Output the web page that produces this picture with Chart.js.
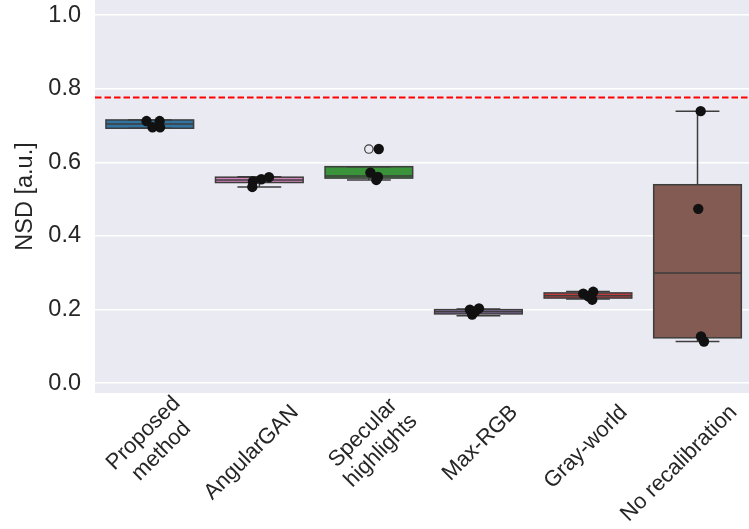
<!DOCTYPE html>
<html>
<head>
<meta charset="utf-8">
<script src="https://cdn.jsdelivr.net/npm/chart.js@4.4.1/dist/chart.umd.min.js"></script>
<style>
  body { margin: 0; background: #ffffff; }
  #wrap { width: 749px; height: 529px; }
</style>
</head>
<body>
<div id="wrap"><canvas id="boxChart" width="749" height="529"></canvas></div>
<script>
const categories = [['Proposed', 'method'], 'AngularGAN', ['Specular', 'highlights'], 'Max-RGB', 'Gray-world', 'No recalibration'];
const boxColors = ['#3274a1', '#d684bd', '#3a923a', '#9372b2', '#c03d3e', '#845b53'];

// box statistics
const whiskerLow = [0.6925, 0.533, 0.552, 0.183, 0.2285, 0.113];
const q1 = [0.6925, 0.545, 0.557, 0.188, 0.231, 0.123];
const median = [0.704, 0.552, 0.563, 0.194, 0.237, 0.299];
const q3 = [0.715, 0.5595, 0.588, 0.1995, 0.245, 0.539];
const whiskerHigh = [0.715, 0.561, 0.588, 0.201, 0.249, 0.739];
const fliers = [[], [], [0.636], [], [], []];

// strip points and their horizontal jitter (category units)
const samples = [
  [0.712, 0.712, 0.695, 0.695],
  [0.548, 0.533, 0.554, 0.5595],
  [0.572, 0.560, 0.552, 0.636],
  [0.1995, 0.203, 0.186, 0.194],
  [0.243, 0.248, 0.2355, 0.2266],
  [0.739, 0.4735, 0.127, 0.113]
];
const jitter = [
  [-0.03, 0.09, 0.025, 0.094],
  [-0.058, -0.064, 0.018, 0.088],
  [0.014, 0.083, 0.068, 0.09],
  [-0.078, 0.005, -0.057, -0.032],
  [-0.043, 0.048, 0.003, 0.039],
  [0.029, 0.007, 0.032, 0.059]
];
const threshold = 0.776;
const yTicks = [0, 0.2, 0.4, 0.6, 0.8, 1.0];

const FONT = '"Liberation Sans", Arial, sans-serif';
const FSIZE = 23.5;
const XSIZE = 22;
const LINE = '#3d3d3d';
const TEXT = '#262626';

const pointData = [];
samples.forEach((vals, i) => vals.forEach((v, k) => pointData.push({x: i + jitter[i][k], y: v})));
const flierData = [];
fliers.forEach((vals, i) => vals.forEach(v => flierData.push({x: i, y: v})));

const plotBg = {
  id: 'plotBg',
  beforeDraw(chart) {
    const {ctx, chartArea: a} = chart;
    ctx.save();
    ctx.fillStyle = '#eaeaf2';
    ctx.fillRect(a.left, a.top, a.right - a.left, a.bottom - a.top);
    ctx.restore();
  }
};

const boxes = {
  id: 'boxes',
  beforeDatasetsDraw(chart) {
    const {ctx, scales: {x, y}} = chart;
    ctx.save();
    ctx.strokeStyle = LINE;
    ctx.lineWidth = 1.5;
    categories.forEach((c, i) => {
      const cx = x.getPixelForValue(i);
      const l = x.getPixelForValue(i - 0.4), r = x.getPixelForValue(i + 0.4);
      const cl = x.getPixelForValue(i - 0.2), cr = x.getPixelForValue(i + 0.2);
      const top = y.getPixelForValue(q3[i]), bot = y.getPixelForValue(q1[i]);
      const hi = y.getPixelForValue(whiskerHigh[i]), lo = y.getPixelForValue(whiskerLow[i]);
      const md = y.getPixelForValue(median[i]);
      ctx.fillStyle = boxColors[i];
      ctx.fillRect(l, top, r - l, bot - top);
      ctx.strokeRect(l, top, r - l, bot - top);
      ctx.beginPath();
      ctx.moveTo(cx, top); ctx.lineTo(cx, hi);
      ctx.moveTo(cl, hi); ctx.lineTo(cr, hi);
      ctx.moveTo(cx, bot); ctx.lineTo(cx, lo);
      ctx.moveTo(cl, lo); ctx.lineTo(cr, lo);
      ctx.moveTo(l, md); ctx.lineTo(r, md);
      ctx.stroke();
    });
    ctx.restore();
  }
};

// rotated category labels, right end anchored a little right of each tick
const xLabels = {
  id: 'xLabels',
  afterDraw(chart) {
    const {ctx, chartArea, scales: {x}} = chart;
    const lh = XSIZE * 1.15;
    ctx.save();
    ctx.font = XSIZE + 'px ' + FONT;
    ctx.fillStyle = TEXT;
    ctx.textAlign = 'right';
    ctx.textBaseline = 'middle';
    categories.forEach((lab, i) => {
      const lines = [].concat(lab);
      const w = Math.max(...lines.map(t => ctx.measureText(t).width));
      ctx.save();
      ctx.translate(x.getPixelForValue(i) + 36, chartArea.bottom + 16);
      ctx.rotate(-Math.PI / 4);
      lines.forEach((t, k) => {
        const shift = (w - ctx.measureText(t).width) / 2;
        ctx.fillText(t, -shift, (k - (lines.length - 1) / 2) * lh);
      });
      ctx.restore();
    });
    ctx.restore();
  }
};

new Chart(document.getElementById('boxChart'), {
  type: 'scatter',
  data: {
    datasets: [{
      data: pointData,
      backgroundColor: '#111111',
      borderWidth: 0,
      pointRadius: 5.2
    }, {
      data: flierData,
      backgroundColor: 'rgba(0,0,0,0)',
      borderColor: LINE,
      borderWidth: 1.2,
      pointRadius: 4.2
    }, {
      data: [{x: -0.5, y: threshold}, {x: 5.5, y: threshold}],
      showLine: true,
      borderColor: '#ff0000',
      borderWidth: 1.8,
      borderDash: [6.5, 3],
      pointRadius: 0
    }]
  },
  options: {
    responsive: false,
    animation: false,
    devicePixelRatio: 1,
    layout: { padding: 0, autoPadding: false },
    plugins: { legend: { display: false }, tooltip: { enabled: false } },
    scales: {
      x: {
        type: 'linear',
        min: -0.5,
        max: 5.47,
        grid: { display: false },
        border: { display: false },
        ticks: { display: false },
        afterFit: s => { s.height = 136; s.paddingLeft = 0; s.paddingRight = 0; }
      },
      y: {
        min: -0.027,
        max: 1.041,
        border: { display: false },
        grid: { color: '#ffffff', lineWidth: 1.5, drawTicks: false },
        afterBuildTicks: s => { s.ticks = yTicks.map(v => ({value: v})); },
        ticks: {
          padding: 14,
          color: TEXT,
          font: { family: FONT, size: FSIZE },
          callback: v => v.toFixed(1)
        },
        title: {
          display: true,
          text: 'NSD [a.u.]',
          color: TEXT,
          font: { family: FONT, size: FSIZE },
          padding: { top: 11, bottom: 0 }
        },
        afterFit: s => { s.width = 95; s.paddingTop = 0; s.paddingBottom = 0; }
      }
    }
  },
  plugins: [plotBg, boxes, xLabels]
});
</script>
</body>
</html>
